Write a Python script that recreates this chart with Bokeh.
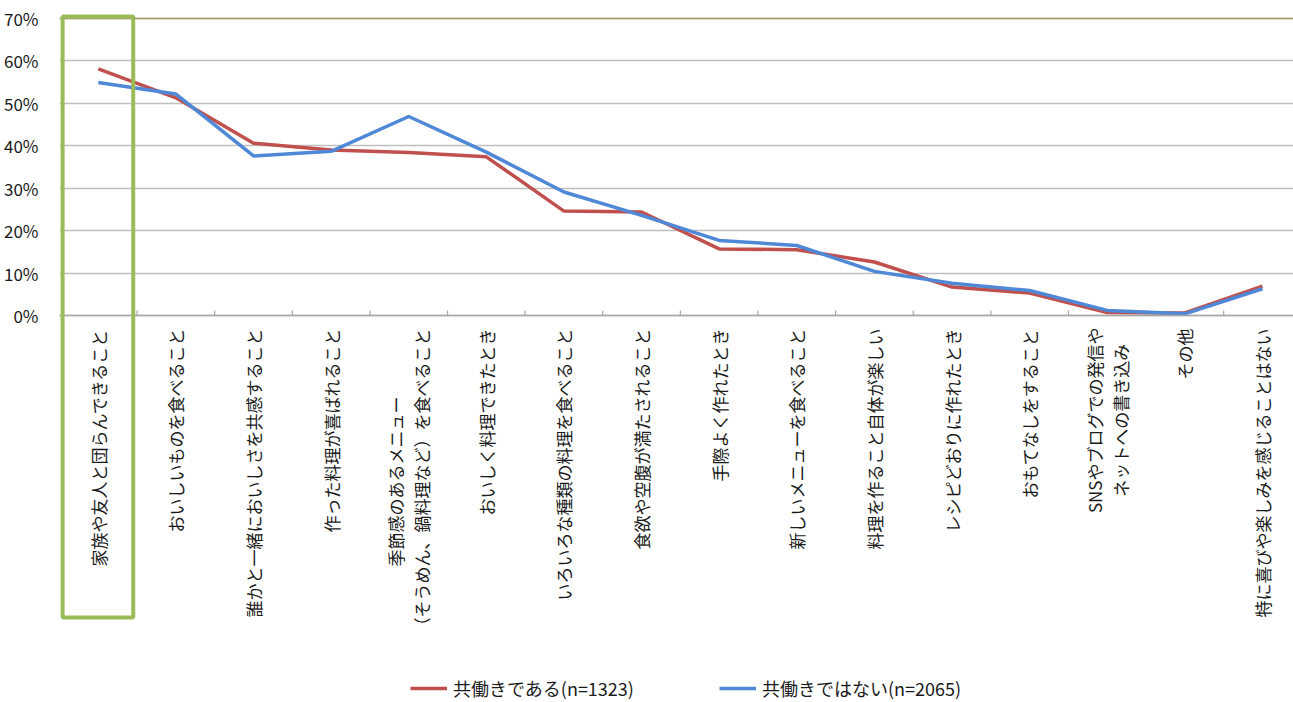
import math
from bokeh.plotting import figure
from bokeh.models import (FixedTicker, PrintfTickFormatter, BoxAnnotation, Span,
                          Legend, LegendItem, Range1d)
from bokeh.core.properties import value
from bokeh.embed import file_html
from bokeh.resources import INLINE

categories = [
    "家族や友人と団らんできること",
    "おいしいものを食べること",
    "誰かと一緒においしさを共感すること",
    "作った料理が喜ばれること",
    "季節感のあるメニュー\n（そうめん、鍋料理など）を食べること",
    "おいしく料理できたとき",
    "いろいろな種類の料理を食べること",
    "食欲や空腹が満たされること",
    "手際よく作れたとき",
    "新しいメニューを食べること",
    "料理を作ること自体が楽しい",
    "レシピどおりに作れたとき",
    "おもてなしをすること",
    "SNSやブログでの発信や\nネットへの書き込み",
    "その他",
    "特に喜びや楽しみを感じることはない",
]
working = [58.1, 51.3, 40.6, 39.0, 38.4, 37.4, 24.6, 24.4, 15.7, 15.5, 12.6, 6.7, 5.3, 0.7, 0.6, 6.9]
not_working = [54.9, 52.2, 37.6, 38.7, 46.9, 38.5, 29.1, 23.6, 17.7, 16.5, 10.4, 7.6, 5.9, 1.2, 0.4, 6.3]
series_names = ["共働きである(n=1323)", "共働きではない(n=2065)"]
y_ticks = [0, 10, 20, 30, 40, 50, 60, 70]

FONT = "Noto Sans CJK JP"
RED = "#C0504D"
BLUE = "#4F88D6"
GREEN = "#9BBB59"
TEXT = "#1a1a1a"

W, H = 1293, 702
LEFT, TOP = 59, 13
PX_PER_CAT = 77.61
PX_PER_UNIT = 4.243          # pixels per percentage point
ZERO_Y = 315                  # page y of the 0% line

xs = list(range(len(categories)))
boundaries = [i + 0.5 for i in xs[:-1]]

frame_w = W - LEFT
frame_h = H - TOP
x_start = -0.5
x_end = x_start + frame_w / PX_PER_CAT
y_end = (ZERO_Y - TOP) / PX_PER_UNIT
y_start = y_end - frame_h / PX_PER_UNIT

p = figure(output_backend="svg", toolbar_location=None,
           frame_width=frame_w, frame_height=frame_h,
           min_border_left=LEFT, min_border_right=0, min_border_top=TOP, min_border_bottom=0,
           x_range=Range1d(x_start, x_end), y_range=Range1d(y_start, y_end),
           x_axis_location=None,
           background_fill_color="white", border_fill_color="white")
p.outline_line_color = None

# y axis
p.yaxis.ticker = FixedTicker(ticks=y_ticks)
p.yaxis.formatter = PrintfTickFormatter(format="%d%%")
p.yaxis.axis_line_color = None
p.yaxis.major_tick_line_color = None
p.yaxis.minor_tick_line_color = None
p.yaxis.major_label_standoff = 15
p.yaxis.major_label_text_font = FONT
p.yaxis.major_label_text_font_size = "17px"
p.yaxis.major_label_text_color = TEXT

p.xgrid.grid_line_color = None
p.ygrid.ticker = FixedTicker(ticks=y_ticks)
p.ygrid.grid_line_color = "#bfbfbf"
p.ygrid.grid_line_width = 1.5

p.add_layout(Span(location=y_ticks[-1], dimension="width", line_color="#a39a62", line_width=1.5))
p.add_layout(Span(location=0, dimension="width", line_color="#a6a6a6", line_width=1.5))

# category boundary ticks (5px, pointing up from the baseline)
tick_len = 5 / PX_PER_UNIT
p.segment(x0=boundaries, y0=[0] * len(boundaries), x1=boundaries,
          y1=[tick_len] * len(boundaries), line_color="#a6a6a6", line_width=1.2)

# category labels, rotated, hanging below the baseline
FS = 17
STANDOFF = 13 / PX_PER_UNIT
LINE_SP = 26 / PX_PER_CAT


def est_len(s):
    return sum(FS if ord(ch) > 0x2000 else FS * 0.6 for ch in s)


single = [(i, c) for i, c in enumerate(categories) if "\n" not in c]
p.text(x=[i for i, _ in single], y=[-STANDOFF] * len(single), text=[c for _, c in single],
       angle=math.pi / 2, text_align="right", text_baseline="middle",
       text_font=value(FONT), text_font_size=f"{FS}px", text_color=TEXT)

# multi-line labels: each line centred on the block centre (as the original does)
mx, my, mt = [], [], []
for i, c in enumerate(categories):
    if "\n" not in c:
        continue
    lines = c.split("\n")
    centre = -STANDOFF - max(est_len(line) for line in lines) / 2 / PX_PER_UNIT
    n = len(lines)
    for j, line in enumerate(lines):
        mx.append(i + (j - (n - 1) / 2) * LINE_SP)
        my.append(centre)
        mt.append(line)
p.text(x=mx, y=my, text=mt,
       angle=math.pi / 2, text_align="center", text_baseline="middle",
       text_font=value(FONT), text_font_size=f"{FS}px", text_color=TEXT)

r1 = p.line(xs, working, line_color=RED, line_width=3.5)
r2 = p.line(xs, not_working, line_color=BLUE, line_width=3.5)

# highlight box around the first category
p.add_layout(BoxAnnotation(left=xs[0] - 0.46, right=xs[0] + 0.45,
                           top=(ZERO_Y - 16) / PX_PER_UNIT, bottom=(ZERO_Y - 617) / PX_PER_UNIT,
                           fill_alpha=0, line_color=GREEN, line_alpha=1.0, line_width=4,
                           level="overlay"))

legend = Legend(items=[LegendItem(label=series_names[0], renderers=[r1]),
                       LegendItem(label=series_names[1], renderers=[r2])],
                orientation="horizontal", location=(410 - LEFT, 1),
                glyph_width=37, glyph_height=18, label_standoff=6, spacing=85,
                label_text_font=FONT, label_text_font_size="18px",
                label_text_color=TEXT, label_height=18,
                border_line_color=None, background_fill_alpha=0,
                padding=0, margin=0)
p.add_layout(legend)

open("out.html", "w").write(file_html(p, INLINE))
